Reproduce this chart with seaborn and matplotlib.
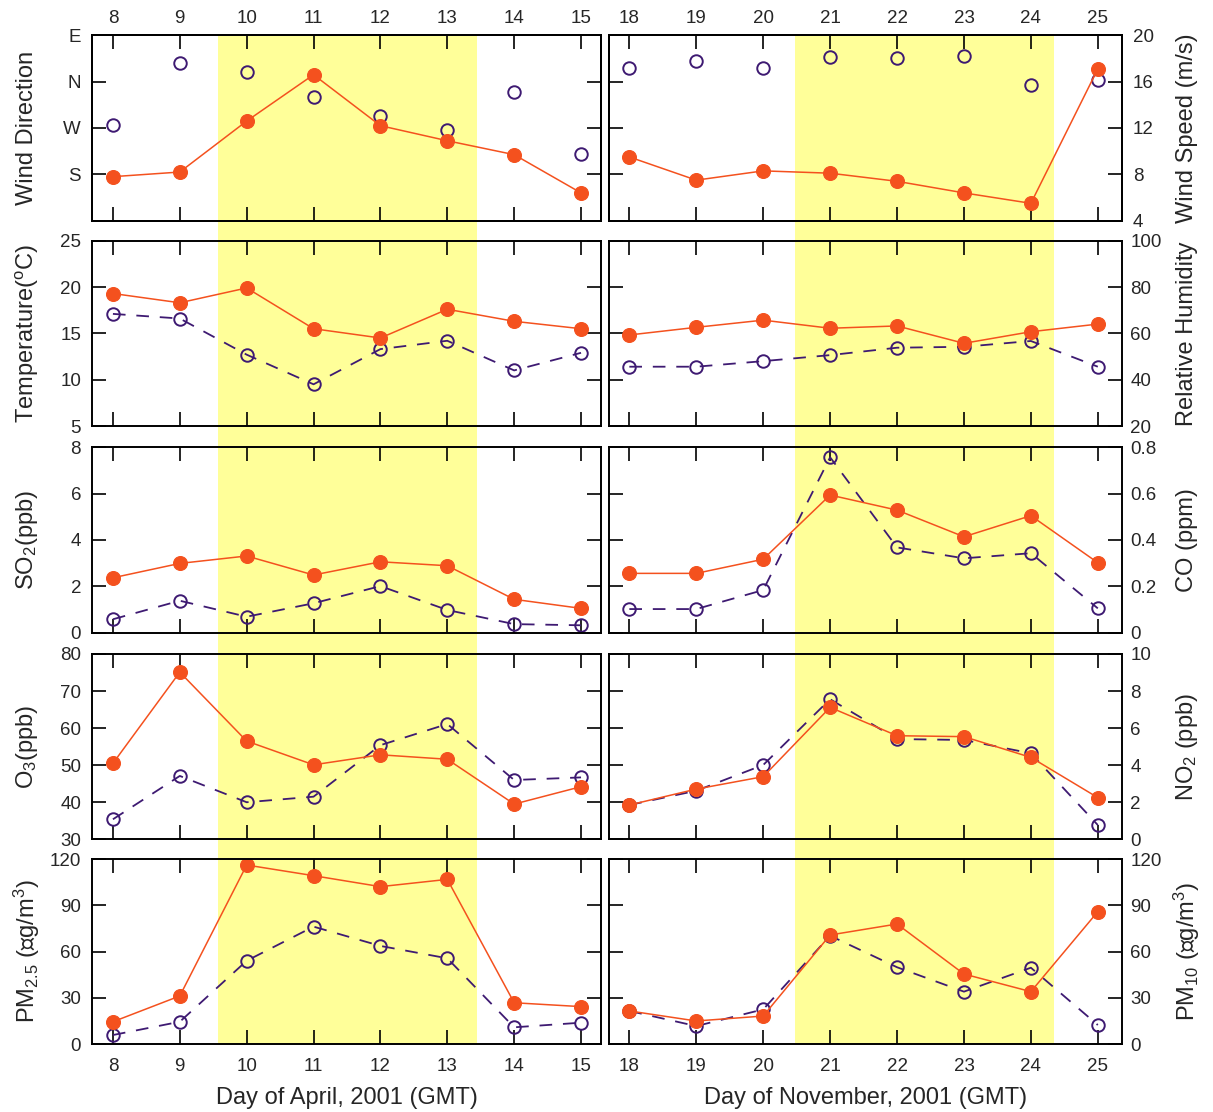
import matplotlib
matplotlib.use("Agg")
import matplotlib.pyplot as plt
import pandas as pd
import seaborn as sns

# ---------------------------------------------------------------- data
apr_days = [8, 9, 10, 11, 12, 13, 14, 15]
nov_days = [18, 19, 20, 21, 22, 23, 24, 25]

# wind direction (deg, open circles) and wind speed (m/s, filled)
apr_wdir = [275, 396, 378, 330, 293, 266, 340, 219]
apr_wspd = [7.8, 8.2, 12.6, 16.6, 12.2, 10.9, 9.7, 6.4]
nov_wdir = [387, 401, 387, 408, 406, 410, 353, 363]
nov_wspd = [9.5, 7.5, 8.3, 8.1, 7.4, 6.4, 5.5, 17.1]

apr_temp_a = [19.3, 18.3, 19.9, 15.5, 14.5, 17.6, 16.3, 15.5]
apr_temp_b = [17.1, 16.6, 12.7, 9.5, 13.3, 14.2, 11.0, 12.9]
nov_rh_a = [59.3, 62.6, 65.7, 62.2, 63.2, 55.7, 60.7, 64.0]
nov_rh_b = [45.6, 45.6, 48.0, 50.6, 53.8, 54.2, 56.7, 45.6]

apr_so2_a = [2.37, 2.99, 3.31, 2.49, 3.06, 2.89, 1.44, 1.05]
apr_so2_b = [0.58, 1.38, 0.69, 1.27, 2.01, 0.98, 0.37, 0.32]
nov_co_a = [0.256, 0.256, 0.317, 0.594, 0.529, 0.414, 0.505, 0.302]
nov_co_b = [0.102, 0.102, 0.184, 0.757, 0.368, 0.321, 0.343, 0.105]

apr_o3_a = [50.5, 75.1, 56.5, 50.1, 52.8, 51.6, 39.5, 44.2]
apr_o3_b = [35.4, 47.1, 40.0, 41.5, 55.4, 61.1, 46.0, 46.7]
nov_no2_a = [1.85, 2.71, 3.38, 7.12, 5.59, 5.54, 4.42, 2.25]
nov_no2_b = [1.85, 2.62, 4.01, 7.56, 5.41, 5.36, 4.64, 0.77]

apr_pm25_a = [14.6, 31.3, 116.1, 109.2, 102.1, 106.8, 26.9, 24.4]
apr_pm25_b = [6.0, 14.6, 54.1, 76.2, 63.7, 55.7, 11.0, 14.0]
nov_pm10_a = [21.6, 15.1, 18.3, 70.8, 77.9, 45.5, 34.1, 85.9]
nov_pm10_b = [21.6, 11.8, 22.6, 70.3, 49.9, 34.1, 49.6, 12.5]

# highlighted episodes (day units)
apr_episode = (9.57, 13.44)
nov_episode = (20.48, 24.34)

# ---------------------------------------------------------------- style
sns.set_theme(style="ticks")
plt.rcParams["font.family"] = ["Liberation Sans", "DejaVu Sans"]
plt.rcParams["mathtext.fontset"] = "custom"
plt.rcParams["mathtext.rm"] = "Liberation Sans"
plt.rcParams["mathtext.it"] = "Liberation Sans:italic"
plt.rcParams["mathtext.default"] = "regular"

FILL_C = "#F4511E"
OPEN_C = "#3E1A72"
BAND_C = "#FFFF99"
TICK_FS = 13.5
LABEL_FS = 17

W, H = 1213, 1112
fig = plt.figure(figsize=(W / 100, H / 100), dpi=100)


def px_axes(x0, x1, y0, y1, **kw):
    return fig.add_axes([x0 / W, 1 - y1 / H, (x1 - x0) / W, (y1 - y0) / H], **kw)


col_px = [(92.2, 601.1), (608.6, 1121.9)]
row_px = [(35.3, 220.7), (240.7, 426.0), (447.3, 632.7), (654.0, 839.3), (859.0, 1044.3)]
col_days = [apr_days, nov_days]
col_xlim = [(7.69, 15.30), (17.69, 25.36)]
col_band = [apr_episode, nov_episode]
col_xlabel = ["Day of April, 2001 (GMT)", "Day of November, 2001 (GMT)"]

# yellow episode band, running through all rows of each column
for c in range(2):
    bg = px_axes(col_px[c][0], col_px[c][1], row_px[0][0], row_px[-1][1], zorder=0)
    bg.set_xlim(*col_xlim[c])
    bg.axvspan(*col_band[c], color=BAND_C, lw=0)
    bg.axis("off")

panels = [
    # (ylim, yticks, yticklabels, ylabel, filled, open, open_has_line)
    [
        ((90, 450), [180, 270, 360, 450], ["S", "W", "N", "E"], "Wind Direction",
         apr_wspd, apr_wdir, False),
        ((4, 20), [4, 8, 12, 16, 20], ["4", "8", "12", "16", "20"], "Wind Speed (m/s)",
         nov_wspd, nov_wdir, False),
    ],
    [
        ((5, 25), [5, 10, 15, 20, 25], ["5", "10", "15", "20", "25"], r"Temperature($^o$C)",
         apr_temp_a, apr_temp_b, True),
        ((20, 100), [20, 40, 60, 80, 100], ["20", "40", "60", "80", "100"], "Relative Humidity",
         nov_rh_a, nov_rh_b, True),
    ],
    [
        ((0, 8), [0, 2, 4, 6, 8], ["0", "2", "4", "6", "8"], r"SO$_2$(ppb)",
         apr_so2_a, apr_so2_b, True),
        ((0, 0.8), [0, 0.2, 0.4, 0.6, 0.8], ["0", "0.2", "0.4", "0.6", "0.8"], "CO (ppm)",
         nov_co_a, nov_co_b, True),
    ],
    [
        ((30, 80), [30, 40, 50, 60, 70, 80], ["30", "40", "50", "60", "70", "80"], r"O$_3$(ppb)",
         apr_o3_a, apr_o3_b, True),
        ((0, 10), [0, 2, 4, 6, 8, 10], ["0", "2", "4", "6", "8", "10"], r"NO$_2$ (ppb)",
         nov_no2_a, nov_no2_b, True),
    ],
    [
        ((0, 120), [0, 30, 60, 90, 120], ["0", "30", "60", "90", "120"],
         "PM$_{2.5}$ (\u221dg/m$^3$)", apr_pm25_a, apr_pm25_b, True),
        ((0, 120), [0, 30, 60, 90, 120], ["0", "30", "60", "90", "120"],
         "PM$_{10}$ (\u221dg/m$^3$)", nov_pm10_a, nov_pm10_b, True),
    ],
]


def style_frame(ax):
    for s in ax.spines.values():
        s.set_linewidth(1.4)
        s.set_color("black")
        s.set_visible(True)


def draw_open(ax, days, vals, with_line):
    df = pd.DataFrame({"day": days, "value": vals})
    sns.lineplot(data=df, x="day", y="value", ax=ax, legend=False, errorbar=None,
                 color=OPEN_C, lw=1.3 if with_line else 0,
                 linestyle=(0, (7, 6)) if with_line else "none",
                 marker="o", markersize=9, markerfacecolor="none",
                 markeredgecolor=OPEN_C, markeredgewidth=1.4)


def draw_filled(ax, days, vals):
    df = pd.DataFrame({"day": days, "value": vals})
    sns.lineplot(data=df, x="day", y="value", ax=ax, legend=False, errorbar=None,
                 color=FILL_C, lw=1.1, marker="o", markersize=10,
                 markerfacecolor=FILL_C, markeredgecolor=FILL_C, markeredgewidth=0.8)


for r, row in enumerate(panels):
    for c, spec in enumerate(row):
        ylim, yt, ytl, ylab, filled, opened, open_line = spec
        days = col_days[c]
        ax = px_axes(col_px[c][0], col_px[c][1], row_px[r][0], row_px[r][1], zorder=1)
        ax.set_facecolor("none")
        style_frame(ax)

        if r == 0:
            # direction on the primary axis, speed on a twin axis
            dir_lim, spd_lim = (90, 450), (4, 20)
            ax.set_ylim(*dir_lim)
            draw_open(ax, days, opened, False)
            ax.set_yticks([180, 270, 360, 450])
            ax.set_yticklabels(["S", "W", "N", "E"])
            tw = ax.twinx()
            tw.set_ylim(*spd_lim)
            draw_filled(tw, days, filled)
            tw.set_yticks([4, 8, 12, 16, 20])
            tw.set_yticklabels(["4", "8", "12", "16", "20"])
            tw.tick_params(axis="y", length=0, labelsize=TICK_FS, pad=8,
                           labelright=(c == 1), labelleft=False)
            tw.set_xlim(*col_xlim[c])
            tw.set_xlabel("")
            tw.set_ylabel("")
            style_frame(tw)
            lab_ax = ax if c == 0 else tw
        else:
            ax.set_ylim(*ylim)
            draw_open(ax, days, opened, open_line)
            draw_filled(ax, days, filled)
            ax.set_yticks(yt)
            ax.set_yticklabels(ytl)
            lab_ax = ax

        ax.set_xlim(*col_xlim[c])
        ax.set_xticks(days)
        ax.set_xticklabels([str(d) for d in days])
        ax.tick_params(axis="both", direction="in", length=10, width=1.2,
                       top=True, bottom=True, left=True, right=True,
                       labelsize=TICK_FS, color="black")
        ax.tick_params(axis="y", labelleft=(c == 0), labelright=False, pad=8)
        if c == 1 and r > 0:
            ax.tick_params(axis="y", labelleft=False, labelright=True, pad=6)
        ax.tick_params(axis="x", labeltop=(r == 0), labelbottom=(r == 4))
        if r == 0:
            ax.tick_params(axis="x", pad=6)
        if r == 4:
            ax.tick_params(axis="x", pad=10)

        ax.set_ylabel("")
        ax.set_xlabel("")
        lab_ax.set_ylabel(ylab, fontsize=LABEL_FS)
        if c == 0:
            lab_ax.yaxis.set_label_coords(-0.128, 0.5)
        else:
            lab_ax.yaxis.set_label_position("right")
            lab_ax.yaxis.set_label_coords(1.127, 0.5)
        lab_ax.yaxis.label.set_rotation(90)
        lab_ax.yaxis.label.set_verticalalignment("center")

        if r == 4:
            ax.set_xlabel(col_xlabel[c], fontsize=LABEL_FS)
            ax.xaxis.set_label_coords(0.5, -0.29)
            ax.xaxis.label.set_verticalalignment("center")

fig.savefig("out.png", dpi=100)
